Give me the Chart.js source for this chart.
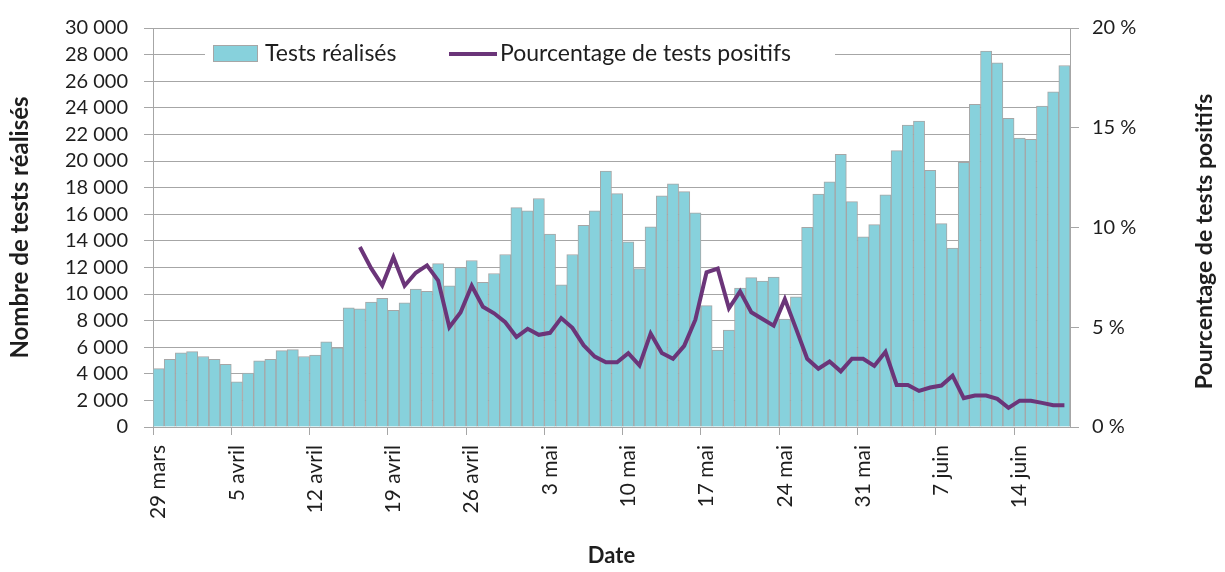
<!DOCTYPE html>
<html>
<head>
<meta charset="utf-8">
<script src="https://cdn.jsdelivr.net/npm/chart.js@4/dist/chart.umd.min.js"></script>
<style>
  body { margin: 0; background: #fff; }
</style>
</head>
<body>
<canvas id="chartOne" width="1225" height="572"></canvas>
<script>
// jours du 29 mars au 18 juin
var days = [
    '29 mars', '30 mars', '31 mars',
    '1 avril', '2 avril', '3 avril', '4 avril', '5 avril', '6 avril', '7 avril', '8 avril', '9 avril', '10 avril',
    '11 avril', '12 avril', '13 avril', '14 avril', '15 avril', '16 avril', '17 avril', '18 avril', '19 avril', '20 avril',
    '21 avril', '22 avril', '23 avril', '24 avril', '25 avril', '26 avril', '27 avril', '28 avril', '29 avril', '30 avril',
    '1 mai', '2 mai', '3 mai', '4 mai', '5 mai', '6 mai', '7 mai', '8 mai', '9 mai', '10 mai',
    '11 mai', '12 mai', '13 mai', '14 mai', '15 mai', '16 mai', '17 mai', '18 mai', '19 mai', '20 mai',
    '21 mai', '22 mai', '23 mai', '24 mai', '25 mai', '26 mai', '27 mai', '28 mai', '29 mai', '30 mai', '31 mai',
    '1 juin', '2 juin', '3 juin', '4 juin', '5 juin', '6 juin', '7 juin', '8 juin', '9 juin', '10 juin',
    '11 juin', '12 juin', '13 juin', '14 juin', '15 juin', '16 juin', '17 juin', '18 juin'
];
var tickLabels = ['29 mars', '5 avril', '12 avril', '19 avril', '26 avril', '3 mai', '10 mai', '17 mai', '24 mai', '31 mai', '7 juin', '14 juin'];

var testsRealises = [
    4390, 5080, 5570, 5670, 5300, 5080, 4710, 3390, 4050, 4980,
    5080, 5740, 5820, 5300, 5400, 6400, 5960, 8960, 8880, 9400,
    9680, 8770, 9340, 10370, 10200, 12280, 10610, 11990, 12520, 10880,
    11540, 12970, 16500, 16250, 17180, 14510, 10690, 12970, 15170, 16250,
    19240, 17550, 13930, 11910, 15050, 17380, 18280, 17700, 16100, 9120,
    5780, 7280, 10440, 11230, 10980, 11270, 8110, 9780, 15020, 17520,
    18430, 20510, 16940, 14290, 15220, 17450, 20780, 22700, 23010, 19290,
    15290, 13460, 19900, 24260, 28260, 27380, 23210, 21720, 21620, 24120,
    25200, 27180
];
// % de tests positifs, pas de donnees avant le 16 avril
var pctPositifs = [
    null, null, null, null, null, null, null, null, null, null,
    null, null, null, null, null, null, null, null, 9.02, 7.96,
    7.1, 8.51, 7.08, 7.73, 8.1, 7.34, 5.0, 5.74, 7.08, 6.03,
    5.7, 5.25, 4.51, 4.92, 4.62, 4.72, 5.46, 4.97, 4.1, 3.53,
    3.24, 3.24, 3.7, 3.09, 4.69, 3.71, 3.42, 4.07, 5.38, 7.75,
    7.94, 5.95, 6.8, 5.75, 5.41, 5.08, 6.41, 4.93, 3.42, 2.92,
    3.28, 2.79, 3.42, 3.42, 3.06, 3.77, 2.11, 2.11, 1.81, 1.98,
    2.08, 2.57, 1.45, 1.58, 1.58, 1.41, 0.96, 1.32, 1.32, 1.21,
    1.09, 1.09
];

var barColor = '#87d1dc';
var barBorder = '#a6a6a6';
var lineColor = '#6b3579';
var gridColor = '#a6a6a6';
var textColor = '#1e1e1e';
var uiFont = "Lato, 'Open Sans', sans-serif";

Chart.defaults.font.family = uiFont;
Chart.defaults.color = textColor;

const fmtThousands = (v) => {
    var s = String(v);
    return s.length > 3 ? s.slice(0, s.length - 3) + ' ' + s.slice(-3) : s;
}

// legende dans la zone du graphique, fond blanc par-dessus la grille
const insideLegend = {
    id: 'insideLegend',
    beforeDatasetsDraw(chart) {
        const ctx = chart.ctx;
        const ds = chart.data.datasets;
        ctx.save();
        ctx.fillStyle = '#fff';
        ctx.fillRect(205, 32, 630, 44);
        ctx.font = '23px ' + uiFont;
        ctx.textBaseline = 'middle';
        ctx.fillStyle = ds[0].backgroundColor;
        ctx.fillRect(213, 45, 45, 17);
        ctx.strokeStyle = ds[0].borderColor;
        ctx.lineWidth = 1;
        ctx.strokeRect(213.5, 45.5, 44, 16);
        ctx.fillStyle = textColor;
        ctx.fillText(ds[0].label, 265, 54);
        ctx.strokeStyle = ds[1].borderColor;
        ctx.lineWidth = 4;
        ctx.beginPath();
        ctx.moveTo(449, 54);
        ctx.lineTo(497, 54);
        ctx.stroke();
        ctx.fillText(ds[1].label, 500, 54);
        ctx.restore();
    }
};

// titre de l'axe de droite, lu de bas en haut
const rightTitle = {
    id: 'rightTitle',
    afterDraw(chart) {
        const ctx = chart.ctx;
        const area = chart.chartArea;
        ctx.save();
        ctx.translate(1205, (area.top + area.bottom) / 2 + 14);
        ctx.rotate(-Math.PI / 2);
        ctx.font = 'bold 23px ' + uiFont;
        ctx.fillStyle = textColor;
        ctx.textAlign = 'center';
        ctx.textBaseline = 'middle';
        ctx.fillText('Pourcentage de tests positifs', 0, 0);
        ctx.restore();
    }
};

var chartOne = document.getElementById('chartOne');
var myChart = new Chart(chartOne, {
    type: 'bar',
    data: {
        labels: days,
        datasets: [{
            type: 'bar',
            label: 'Tests réalisés',
            data: testsRealises,
            backgroundColor: barColor,
            borderColor: barBorder,
            borderWidth: 1,
            barPercentage: 1,
            categoryPercentage: 1,
            yAxisID: 'y',
            order: 2
        }, {
            type: 'line',
            label: 'Pourcentage de tests positifs',
            data: pctPositifs,
            borderColor: lineColor,
            backgroundColor: lineColor,
            borderWidth: 4,
            pointRadius: 0,
            tension: 0,
            yAxisID: 'y1',
            order: 1
        }]
    },
    options: {
        responsive: false,
        animation: false,
        devicePixelRatio: 1,
        layout: { padding: { top: 19, left: 0, right: 0, bottom: 0 } },
        plugins: {
            legend: { display: false },
            tooltip: { enabled: false }
        },
        scales: {
            x: {
                offset: true,
                grid: {
                    offset: true,
                    drawOnChartArea: false,
                    tickLength: 8,
                    color: (c) => c.index % 7 === 0 ? gridColor : 'rgba(0,0,0,0)'
                },
                border: { color: gridColor },
                ticks: {
                    autoSkip: false,
                    maxRotation: 90,
                    minRotation: 90,
                    padding: 10,
                    font: { size: 21 },
                    callback: function (value) {
                        var l = this.getLabelForValue(value);
                        return tickLabels.includes(l) ? l : '';
                    }
                },
                title: {
                    display: true,
                    text: 'Date',
                    font: { size: 22, weight: 'bold' },
                    padding: { top: 0, bottom: 3 }
                },
                afterFit: (scale) => { scale.height = 145; }
            },
            y: {
                position: 'left',
                min: 0,
                max: 30000,
                ticks: {
                    stepSize: 2000,
                    autoSkip: false,
                    padding: 16,
                    font: { size: 20 },
                    callback: (v) => fmtThousands(v)
                },
                grid: { color: gridColor, tickLength: 9 },
                border: { color: gridColor },
                title: {
                    display: true,
                    text: 'Nombre de tests réalisés',
                    font: { size: 24, weight: 'bold' },
                    padding: { top: 6, bottom: 0 }
                },
                afterFit: (scale) => { scale.width = 153; }
            },
            y1: {
                position: 'right',
                min: 0,
                max: 20,
                ticks: {
                    stepSize: 5,
                    autoSkip: false,
                    padding: 13,
                    font: { size: 20 },
                    callback: (v) => v + ' %'
                },
                grid: { drawOnChartArea: false, color: gridColor, tickLength: 9 },
                border: { color: gridColor },
                afterFit: (scale) => { scale.width = 155; }
            }
        }
    },
    plugins: [insideLegend, rightTitle]
});
</script>
</body>
</html>
